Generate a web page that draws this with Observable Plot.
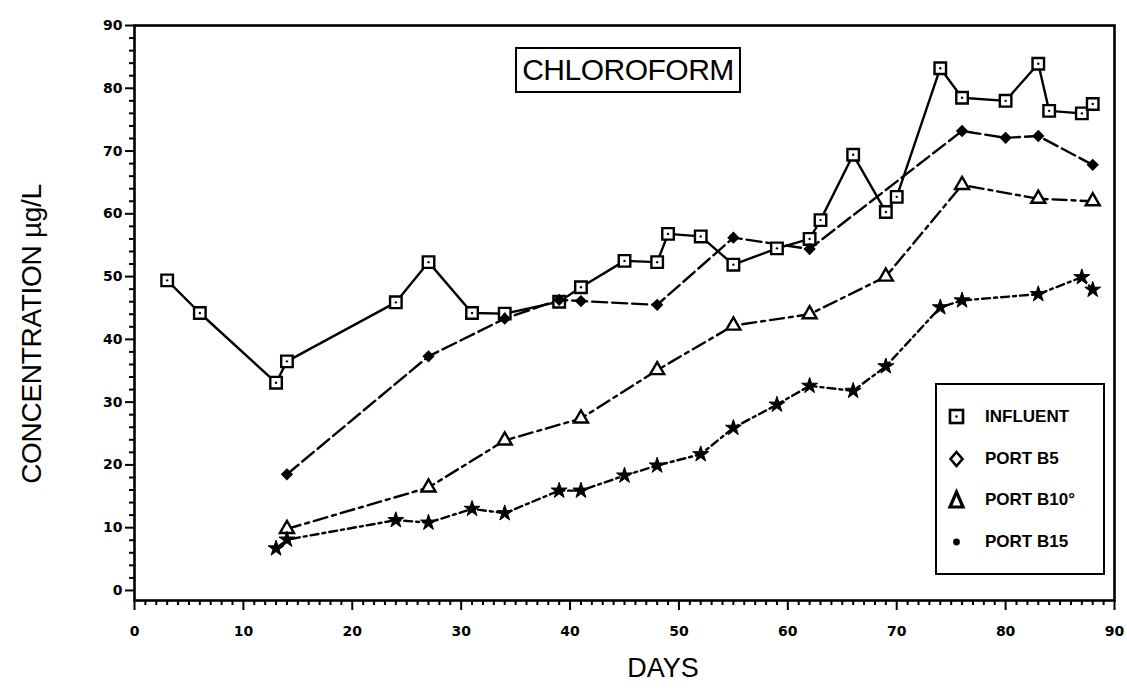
<!DOCTYPE html>
<html><head><meta charset="utf-8">
<script src="https://cdn.jsdelivr.net/npm/d3@7"></script>
<script src="https://cdn.jsdelivr.net/npm/@observablehq/plot@0.6"></script>
<style>
body{margin:0;background:#fff;}
#wrap{position:relative;width:1127px;height:698px;overflow:hidden;font-family:"Liberation Sans",Arial,sans-serif;color:#000;}
#title{position:absolute;left:515px;top:47px;width:222px;height:42px;border:2.5px solid #000;font-size:30px;line-height:42px;text-align:center;letter-spacing:-0.5px;background:#fff;}
#ylab{position:absolute;left:32px;top:334px;transform:translate(-50%,-50%) rotate(-90deg);font-size:28px;white-space:nowrap;letter-spacing:-0.3px;}
#xlab{position:absolute;left:663px;top:668px;transform:translate(-50%,-50%);font-size:27px;}
#legend{position:absolute;left:935px;top:383px;width:166px;height:188px;border:2.5px solid #000;background:#fff;}
.li{position:absolute;left:0;height:24px;font-weight:bold;font-size:17px;}
.li svg{position:absolute;left:8px;top:0;}
.li span{position:absolute;left:48px;top:2px;white-space:nowrap;}
</style></head><body><div id="wrap"></div>
<script>
// ---- data (days, concentration in µg/L) ----
const seriesNames = ["INFLUENT", "PORT B5", "PORT B10°", "PORT B15"];
const influentDays = [3, 6, 13, 14, 24, 27, 31, 34, 39, 41, 45, 48, 49, 52, 55, 59, 62, 63, 66, 69, 70, 74, 76, 80, 83, 84, 87, 88];
const influentConc = [49.4, 44.2, 33.1, 36.5, 45.9, 52.3, 44.2, 44.1, 46.0, 48.3, 52.5, 52.3, 56.8, 56.4, 51.9, 54.5, 56.0, 59.0, 69.4, 60.3, 62.7, 83.2, 78.5, 78.0, 83.9, 76.4, 76.0, 77.5];
const b5Days = [14, 27, 34, 39, 41, 48, 55, 62, 76, 80, 83, 88];
const b5Conc = [18.5, 37.3, 43.3, 46.3, 46.1, 45.5, 56.2, 54.4, 73.2, 72.1, 72.4, 67.8];
const b10Days = [14, 27, 34, 41, 48, 55, 62, 69, 76, 83, 88];
const b10Conc = [9.8, 16.4, 23.9, 27.4, 35.1, 42.2, 44.0, 50.0, 64.6, 62.4, 62.0];
const b15Days = [13, 14, 24, 27, 31, 34, 39, 41, 45, 48, 52, 55, 59, 62, 66, 69, 74, 76, 83, 87, 88];
const b15Conc = [6.7, 8.1, 11.2, 10.8, 13.0, 12.3, 15.9, 15.9, 18.3, 19.9, 21.7, 25.9, 29.6, 32.6, 31.8, 35.7, 45.1, 46.2, 47.2, 49.9, 47.9];
const xTicks = [0, 10, 20, 30, 40, 50, 60, 70, 80, 90];
const yTicks = [0, 10, 20, 30, 40, 50, 60, 70, 80, 90];

const toRows = (days, conc) => days.map((d, i) => ({day: d, conc: conc[i]}));
const influent = toRows(influentDays, influentConc);
const b5 = toRows(b5Days, b5Conc);
const b10 = toRows(b10Days, b10Conc);
const b15 = toRows(b15Days, b15Conc);

const xMinor = d3.range(0, 91, 1).filter(d => d % 10 !== 0);
const yMinor = d3.range(0, 91, 2).filter(d => d % 10 !== 0);
const line = {x: "day", y: "conc", stroke: "black", strokeWidth: 2.4};

const chart = Plot.plot({
  width: 1127, height: 698,
  marginLeft: 134, marginRight: 13, marginTop: 25, marginBottom: 98,
  style: {fontFamily: "DejaVu Sans, sans-serif", background: "transparent"},
  x: {domain: [0, 90]},
  y: {domain: [-1.6, 90]},
  marks: [
    Plot.frame({stroke: "black", strokeWidth: 2.6}),
    Plot.axisY({ticks: yMinor, tickSize: 5, strokeWidth: 2, tickFormat: () => "", label: null}),
    Plot.axisY({ticks: yTicks, tickSize: 9, tickPadding: 3, strokeWidth: 2, fontSize: 14, fontWeight: "bold", label: null, tickFormat: d => String(d)}),
    Plot.axisX({ticks: xMinor, tickSize: 5, strokeWidth: 2, tickFormat: () => "", label: null}),
    Plot.axisX({ticks: xTicks, tickSize: 10, tickPadding: 16, strokeWidth: 2, fontSize: 14, fontWeight: "bold", label: null, tickFormat: d => String(d)}),
    Plot.line(influent, {...line}),
    Plot.line(b5, {...line, strokeDasharray: "15,5"}),
    Plot.line(b10, {...line, strokeDasharray: "14,5,4,5"}),
    Plot.line(b15, {...line, strokeDasharray: "8,4,3,4"}),
    Plot.dot(influent, {x: "day", y: "conc", symbol: "square", r: 6.5, fill: "white", stroke: "black", strokeWidth: 2.4}),
    Plot.dot(influent, {x: "day", y: "conc", r: 1.2, fill: "black"}),
    Plot.dot(b5, {x: "day", y: "conc", symbol: "diamond2", r: 4.6, fill: "black", stroke: "black", strokeWidth: 1.5}),
    Plot.dot(b10, {x: "day", y: "conc", symbol: "triangle", r: 5.2, fill: "white", stroke: "black", strokeWidth: 2.4}),
    Plot.dot(b15, {x: "day", y: "conc", symbol: "star", r: 5, fill: "black", stroke: "black", strokeWidth: 1})
  ]
});

const wrap = document.getElementById("wrap");
wrap.appendChild(chart);

const t = document.createElement("div"); t.id = "title"; t.textContent = "CHLOROFORM"; wrap.appendChild(t);
const yl = document.createElement("div"); yl.id = "ylab"; yl.textContent = "CONCENTRATION µg/L"; wrap.appendChild(yl);
const xl = document.createElement("div"); xl.id = "xlab"; xl.textContent = "DAYS"; wrap.appendChild(xl);

const legendSymbols = [
  '<rect x="5" y="5" width="13" height="13" fill="white" stroke="black" stroke-width="2.6"/><circle cx="11.5" cy="11.5" r="1.2"/>',
  '<path d="M11.5 5 L17.5 12 L11.5 19 L5.5 12 Z" fill="white" stroke="black" stroke-width="2.6"/>',
  '<path d="M11.5 4 L18 19 L5 19 Z" fill="white" stroke="black" stroke-width="3.2"/>',
  '<circle cx="11.5" cy="12" r="3.4" fill="black"/>'
];
const lg = document.createElement("div"); lg.id = "legend";
const rowTops = [20, 62, 103, 145];
seriesNames.forEach((name, i) => {
  const r = document.createElement("div"); r.className = "li"; r.style.top = rowTops[i] + "px";
  r.innerHTML = `<svg width="24" height="24">${legendSymbols[i]}</svg><span>${name}</span>`;
  lg.appendChild(r);
});
wrap.appendChild(lg);
</script></body></html>
